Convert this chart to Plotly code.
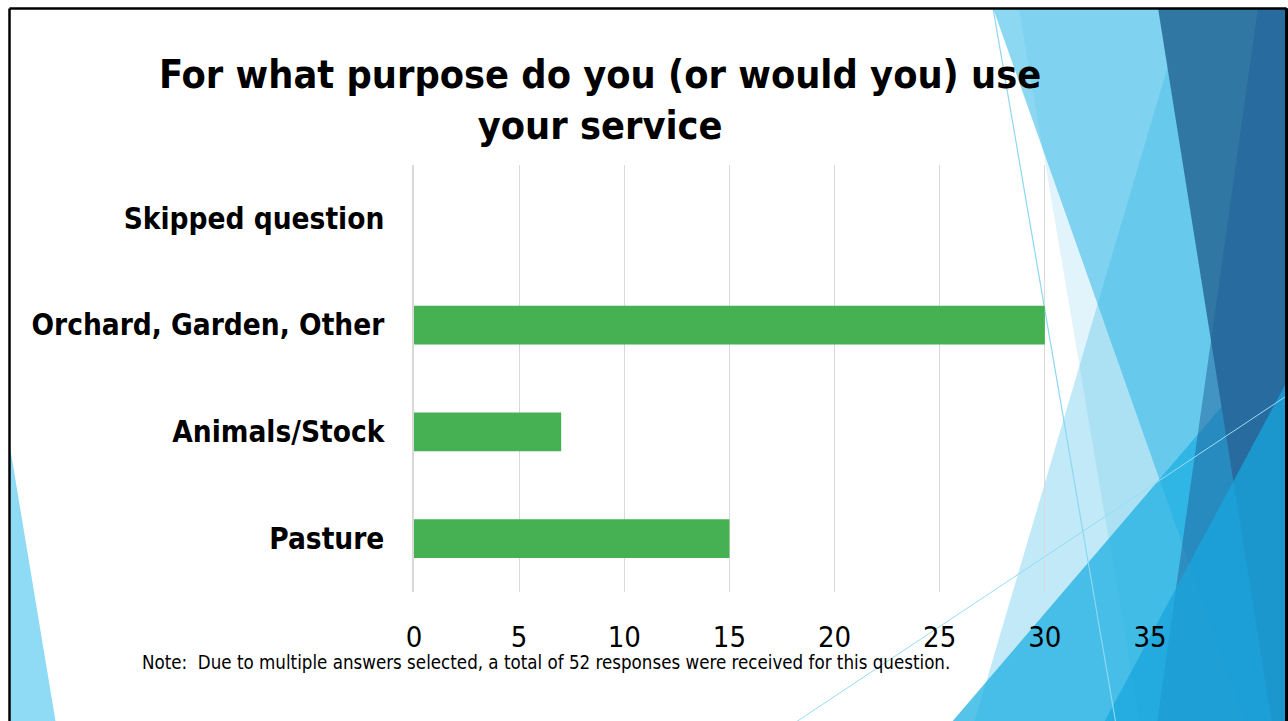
import plotly.graph_objects as go

# ---- data ----
categories = ["Pasture", "Animals/Stock", "Orchard, Garden, Other", "Skipped question"]
responses = [15, 7, 30, 0]
x_ticks = [0, 5, 10, 15, 20, 25, 30, 35]
title_text = "For what purpose do you (or would you) use<br>your service"
note_text = "Note:\u00a0 Due to multiple answers selected, a total of 52 responses were received for this question."

OX, OY = 0, 0
FW, FH = 1288, 721
FONT = "DejaVu Sans Condensed, Open Sans, sans-serif"


def px(x):
    return (x - OX) / FW


def py(y):
    return 1 - (y - OY) / FH


def path(pts):
    return "M " + " L ".join(f"{px(x):.5f},{py(y):.5f}" for x, y in pts) + " Z"


def poly(pts, color):
    return dict(type="path", xref="paper", yref="paper", path=path(pts),
                fillcolor=color, line=dict(width=0), layer="below")


def seg(p0, p1, color, width, layer="below"):
    return dict(type="line", xref="paper", yref="paper",
                x0=px(p0[0]), y0=py(p0[1]), x1=px(p1[0]), y1=py(p1[1]),
                line=dict(color=color, width=width), layer=layer)


R, B = 1300, 730
shapes = [
    poly([(993, 8), (R, 8), (R, B), (1248, B)], "rgb(140,215,242)"),
    poly([(1019, 8), (R, 8), (R, B), (1141, B)], "rgba(51,181,229,0.15)"),
    poly([(1185, 8), (R, 8), (R, B), (972, B)], "rgba(51,181,229,0.3)"),
    poly([(945, B), (R, 315), (R, B)], "rgba(30,175,225,0.75)"),
    poly([(1158, 8), (R, 8), (R, B), (1273, B)], "rgb(49,119,164)"),
    poly([(1258, 8), (R, 8), (R, B), (1156, B)], "rgba(29,95,154,0.5)"),
    poly([(1100, B), (R, 357), (R, B)], "rgba(25,165,222,0.75)"),
    seg((993, 8), (1117, B), "rgb(140,215,242)", 1.2),
    seg((784, B), (R, 387), "rgb(150,220,245)", 1),
    poly([(10, 447), (57, B), (10, B)], "rgb(143,218,244)"),
]
border = [
    seg((9.5, 8.5), (1286.5, 8.5), "black", 2.5, "above"),
    seg((9.5, 8.5), (9.5, B), "black", 2.5, "above"),
    seg((1286.5, 8.5), (1286.5, B), "black", 3, "above"),
]

fig = go.Figure(go.Bar(
    x=responses, y=categories, orientation="h",
    marker=dict(color="#45b153", line=dict(width=0)),
    hoverinfo="x+y",
))

fig.update_layout(
    width=FW, height=FH,
    margin=dict(l=0, r=0, t=0, b=0, autoexpand=False),
    paper_bgcolor="white", plot_bgcolor="rgba(0,0,0,0)",
    bargap=0.635, showlegend=False,
    shapes=shapes + border,
    annotations=[
        dict(text="<b>" + title_text.replace("<br>", "</b><br><b>") + "</b>",
             xref="paper", yref="paper", x=px(600), y=py(100),
             xanchor="center", yanchor="middle", showarrow=False,
             font=dict(family=FONT, size=39.3, color="black")),
        dict(text=note_text, xref="paper", yref="paper", x=px(140), y=py(662),
             xanchor="left", yanchor="middle", showarrow=False,
             font=dict(family=FONT, size=18.6, color="black")),
    ],
)

fig.update_xaxes(
    domain=[px(414), px(1150)], range=[0, 35], tickvals=x_ticks, automargin=False,
    showgrid=True, gridcolor="#d9d9d9", gridwidth=1, zeroline=False,
    showline=False, ticks="", ticklabelstandoff=25,
    tickfont=dict(family=FONT, size=29, color="black"), fixedrange=True,
)
fig.update_yaxes(
    domain=[py(592), py(165)], range=[-0.5, 3.5], automargin=False,
    categoryorder="array", categoryarray=categories,
    showgrid=False, zeroline=False, showline=True, linecolor="#d9d9d9", linewidth=1.5,
    ticks="", ticklabelstandoff=22,
    tickfont=dict(family=FONT, size=29.5, color="black", weight="bold"), fixedrange=True,
)

fig.write_html("out.html", config={"displayModeBar": False},
               post_script="document.body.style.margin='0';document.body.style.overflow='hidden';")
